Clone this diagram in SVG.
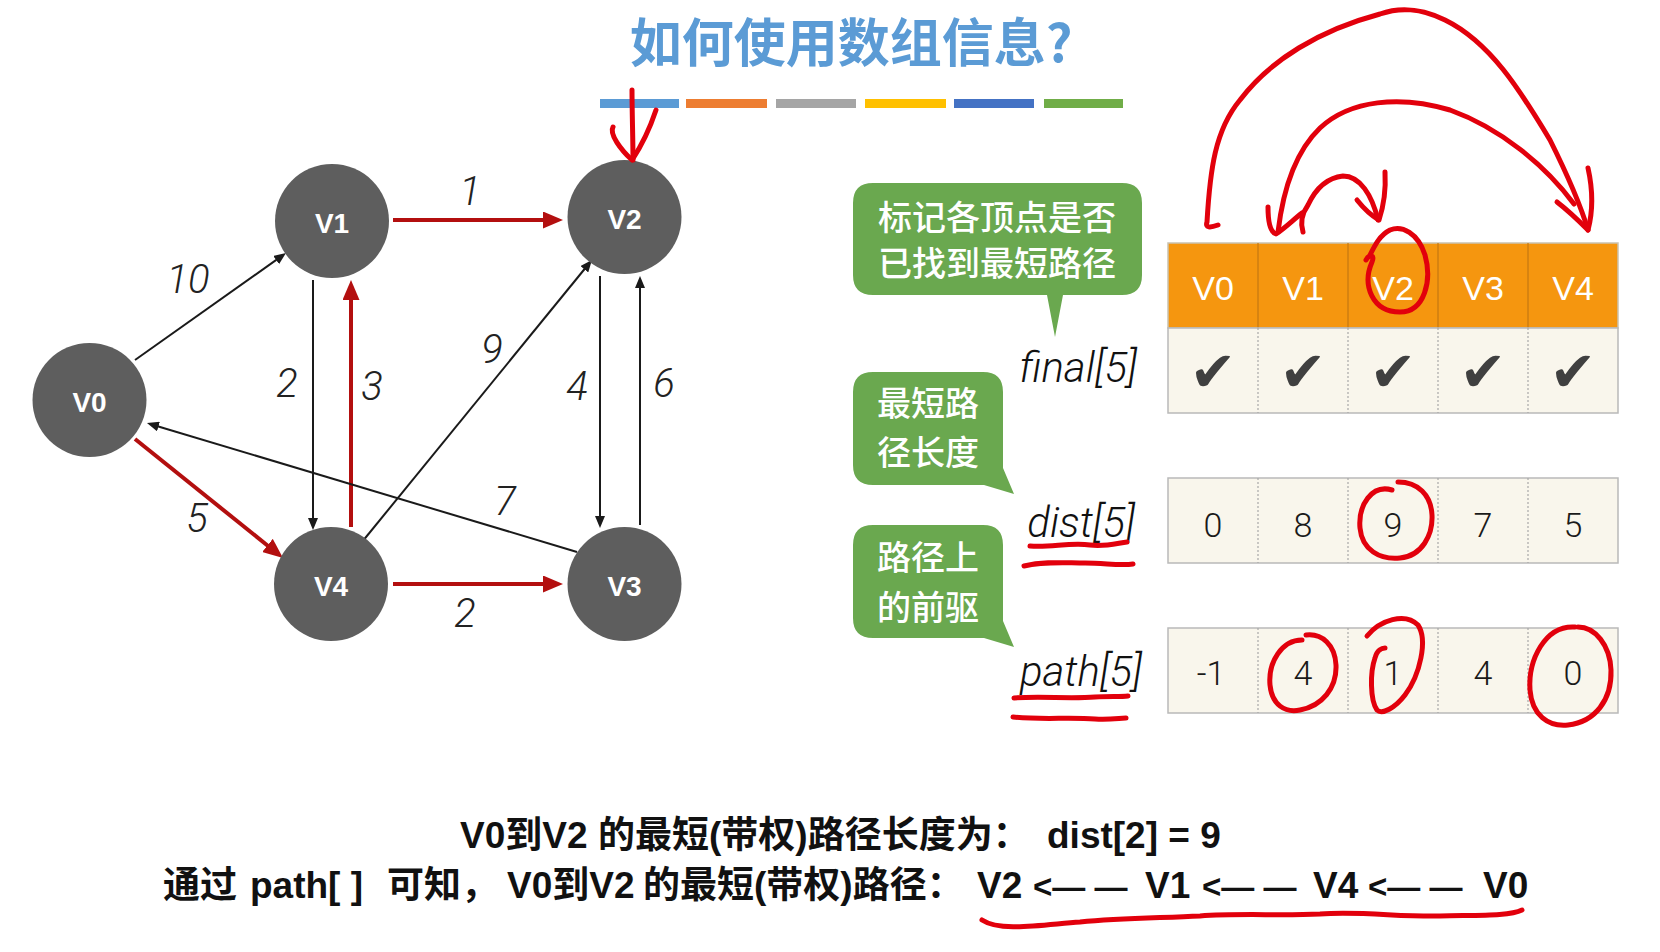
<svg xmlns="http://www.w3.org/2000/svg" width="1660" height="952" viewBox="0 0 1660 952">
<defs>
<style>
.node circle{fill:#5e5e5e}
.node text{font-family:"Liberation Sans","Noto Sans",sans-serif;font-weight:bold;font-size:28px;fill:#fff;text-anchor:middle}
.e{fill:none;stroke:#1a1a1a;stroke-width:2}
.er{fill:none;stroke:#b30f0f;stroke-width:4}
.w{font-family:Roboto,"Liberation Sans",sans-serif;font-weight:300;font-style:italic;font-size:40px;fill:#222;text-anchor:middle}
.bubble{fill:#6aa84f}
.bt{font-family:"Noto Sans CJK SC",sans-serif;font-weight:500;font-size:34px;fill:#fff;text-anchor:middle}
.lab{font-family:Roboto,"Liberation Sans",sans-serif;font-weight:300;font-style:italic;font-size:42px;fill:#111;text-anchor:end}
.hd{fill:#f5960f;stroke:#c9c2b0;stroke-width:1.5}
.row{fill:#f9f6ec;stroke:#b9b9b9;stroke-width:1.5}
.dot{stroke:#a8a8a8;stroke-width:1.2;stroke-dasharray:2 2}
.hdiv{stroke:#c47812;stroke-width:1.2}
.ht{font-family:"Liberation Sans",sans-serif;font-size:34px;fill:#fff;text-anchor:middle}
.ck{font-family:"DejaVu Sans",sans-serif;font-size:56px;fill:#404040;text-anchor:middle}
.num{font-family:Roboto,"Liberation Sans",sans-serif;font-weight:300;font-size:34px;fill:#1a1a1a;text-anchor:middle}
.ink{fill:none;stroke:#e2000c;stroke-width:5;stroke-linecap:round;stroke-linejoin:round}
.bot{font-family:"Liberation Sans","Noto Sans CJK SC",sans-serif;font-weight:bold;font-size:37px;fill:#111}
.arw{font-size:33px}
</style>
<marker id="ak" markerUnits="userSpaceOnUse" markerWidth="12" markerHeight="10" refX="1" refY="5" orient="auto"><path d="M0,0 L12,5 L0,10 Z" fill="#1a1a1a"/></marker>
<marker id="ar" markerUnits="userSpaceOnUse" markerWidth="20" markerHeight="17" refX="2" refY="8.5" orient="auto"><path d="M0,0 L20,8.5 L0,17 Z" fill="#b30f0f"/></marker>
</defs>
<rect width="1660" height="952" fill="#fff"/>

<g id="title">
<text x="851" y="62" font-family="Noto Sans CJK SC, sans-serif" font-weight="bold" font-size="52" fill="#5b9bd5" text-anchor="middle">如何使用数组信息?</text>
<rect x="600" y="99" width="79" height="9" fill="#5b9bd5"/>
<rect x="686" y="99" width="81" height="9" fill="#ed7d31"/>
<rect x="776" y="99" width="80" height="9" fill="#a5a5a5"/>
<rect x="865" y="99" width="81" height="9" fill="#ffc000"/>
<rect x="954" y="99" width="80" height="9" fill="#4472c4"/>
<rect x="1044" y="99" width="79" height="9" fill="#70ad47"/>
</g>

<g id="connectors">
<line class="e" x1="135" y1="360" x2="277" y2="259.4" marker-end="url(#ak)"/>
<line class="er" x1="135" y1="439" x2="269" y2="546.7" marker-end="url(#ar)"/>
<line class="er" x1="393" y1="220" x2="545" y2="220" marker-end="url(#ar)"/>
<line class="e" x1="313" y1="280" x2="313" y2="519" marker-end="url(#ak)"/>
<line class="er" x1="351" y1="527" x2="351" y2="298" marker-end="url(#ar)"/>
<line class="e" x1="362" y1="542" x2="585" y2="268.5" marker-end="url(#ak)"/>
<line class="e" x1="600" y1="276" x2="600" y2="517" marker-end="url(#ak)"/>
<line class="e" x1="640" y1="525" x2="640" y2="287" marker-end="url(#ak)"/>
<line class="e" x1="577" y1="552" x2="157.5" y2="426.2" marker-end="url(#ak)"/>
<line class="er" x1="393" y1="584" x2="545" y2="584" marker-end="url(#ar)"/>
<text class="w" x="188" y="293">10</text>
<text class="w" x="470" y="205">1</text>
<text class="w" x="287" y="397">2</text>
<text class="w" x="372" y="400">3</text>
<text class="w" x="492" y="363">9</text>
<text class="w" x="577" y="400">4</text>
<text class="w" x="664" y="397">6</text>
<text class="w" x="505" y="515">7</text>
<text class="w" x="197" y="532">5</text>
<text class="w" x="465" y="627">2</text>
</g>

<g id="V0" class="node"><circle cx="89.5" cy="400" r="57"/><text x="89.5" y="412">V0</text></g>
<g id="V1" class="node"><circle cx="332" cy="221" r="57"/><text x="332" y="233">V1</text></g>
<g id="V2" class="node"><circle cx="624.5" cy="217" r="57"/><text x="624.5" y="229">V2</text></g>
<g id="V3" class="node"><circle cx="624.5" cy="584" r="57"/><text x="624.5" y="596">V3</text></g>
<g id="V4" class="node"><circle cx="331" cy="584" r="57"/><text x="331" y="596">V4</text></g>

<g id="callout-final">
<path class="bubble" d="M873,183 H1122 Q1142,183 1142,203 V275 Q1142,295 1122,295 H1063 L1055,337 L1047,295 H873 Q853,295 853,275 V203 Q853,183 873,183 Z"/>
<text class="bt" x="997" y="229.5">标记各顶点是否</text>
<text class="bt" x="997" y="275.5">已找到最短路径</text>
</g>
<g id="callout-dist">
<path class="bubble" d="M873,372 H983 Q1003,372 1003,392 V468 L1014,494 L984,485 H873 Q853,485 853,465 V392 Q853,372 873,372 Z"/>
<text class="bt" x="928" y="415.5">最短路</text>
<text class="bt" x="928" y="464.5">径长度</text>
</g>
<g id="callout-path">
<path class="bubble" d="M873,525 H983 Q1003,525 1003,545 V621 L1014,647 L984,638 H873 Q853,638 853,618 V545 Q853,525 873,525 Z"/>
<text class="bt" x="928" y="569.5">路径上</text>
<text class="bt" x="928" y="619.5">的前驱</text>
</g>

<g id="labels">
<text class="lab" x="1137" y="382">final[5]</text>
<text class="lab" x="1135" y="537">dist[5]</text>
<text class="lab" x="1142" y="686">path[5]</text>
</g>

<g id="table-final">
<rect class="hd" x="1168" y="243" width="450" height="85"/>
<line class="hdiv" x1="1258" y1="243" x2="1258" y2="328"/>
<line class="hdiv" x1="1348" y1="243" x2="1348" y2="328"/>
<line class="hdiv" x1="1438" y1="243" x2="1438" y2="328"/>
<line class="hdiv" x1="1528" y1="243" x2="1528" y2="328"/>
<text class="ht" x="1213" y="300">V0</text>
<text class="ht" x="1303" y="300">V1</text>
<text class="ht" x="1393" y="300">V2</text>
<text class="ht" x="1483" y="300">V3</text>
<text class="ht" x="1573" y="300">V4</text>
<rect class="row" x="1168" y="328" width="450" height="85"/>
<line class="dot" x1="1258" y1="328" x2="1258" y2="413"/>
<line class="dot" x1="1348" y1="328" x2="1348" y2="413"/>
<line class="dot" x1="1438" y1="328" x2="1438" y2="413"/>
<line class="dot" x1="1528" y1="328" x2="1528" y2="413"/>
<text class="ck" x="1213" y="391">✔</text>
<text class="ck" x="1303" y="391">✔</text>
<text class="ck" x="1393" y="391">✔</text>
<text class="ck" x="1483" y="391">✔</text>
<text class="ck" x="1573" y="391">✔</text>
</g>
<g id="table-dist">
<rect class="row" x="1168" y="478" width="450" height="85"/>
<line class="dot" x1="1258" y1="478" x2="1258" y2="563"/>
<line class="dot" x1="1348" y1="478" x2="1348" y2="563"/>
<line class="dot" x1="1438" y1="478" x2="1438" y2="563"/>
<line class="dot" x1="1528" y1="478" x2="1528" y2="563"/>
<text class="num" x="1213" y="537">0</text>
<text class="num" x="1303" y="537">8</text>
<text class="num" x="1393" y="537">9</text>
<text class="num" x="1483" y="537">7</text>
<text class="num" x="1573" y="537">5</text>
</g>
<g id="table-path">
<rect class="row" x="1168" y="628" width="450" height="85"/>
<line class="dot" x1="1258" y1="628" x2="1258" y2="713"/>
<line class="dot" x1="1348" y1="628" x2="1348" y2="713"/>
<line class="dot" x1="1438" y1="628" x2="1438" y2="713"/>
<line class="dot" x1="1528" y1="628" x2="1528" y2="713"/>
<text class="num" x="1211" y="685">-1</text>
<text class="num" x="1303" y="685">4</text>
<text class="num" x="1393" y="685">1</text>
<text class="num" x="1483" y="685">4</text>
<text class="num" x="1573" y="685">0</text>
</g>

<g id="ink">
<path class="ink" d="M632,90 C632,112 633,140 633,160"/>
<path class="ink" d="M613,127 C609,134 621,150 632,160 C640,148 650,128 656,110"/>
<path class="ink" d="M1218,225 C1210,228 1205,228 1207,222 C1210,170 1215,130 1240,100 C1270,60 1320,30 1380,14 C1400,7 1420,8 1445,20 C1490,42 1520,90 1550,140 C1570,180 1582,210 1588,230"/>
<path class="ink" d="M1557,202 C1570,212 1580,222 1588,230 C1592,215 1594,195 1588,168"/>
<path class="ink" d="M1574,204 C1545,165 1500,128 1450,110 C1400,95 1350,100 1320,128 C1295,152 1283,190 1278,232"/>
<path class="ink" d="M1268,207 C1268,220 1270,232 1276,234 C1285,228 1293,220 1302,213"/>
<path class="ink" d="M1303,232 C1300,222 1303,212 1308,205 C1315,190 1325,178 1343,176 C1360,176 1372,195 1378,220"/>
<path class="ink" d="M1357,200 C1365,210 1372,216 1379,220 C1384,205 1386,190 1385,172"/>
<path class="ink" d="M1366,260 C1370,253 1375,255 1372,262 C1362,285 1372,312 1400,312 C1425,312 1432,280 1425,255 C1418,233 1402,225 1390,230 C1380,235 1375,245 1370,255"/>
<path class="ink" d="M1392,490 C1372,484 1358,505 1360,528 C1362,550 1380,560 1400,558 C1422,556 1433,535 1432,515 C1431,495 1418,482 1398,482"/>
<path class="ink" d="M1302,640 C1282,640 1268,662 1270,685 C1272,705 1285,713 1300,710 C1322,706 1337,688 1336,665 C1335,645 1322,633 1306,635"/>
<path class="ink" d="M1367,636 C1380,620 1405,612 1418,625 C1428,640 1420,675 1405,695 C1395,708 1382,715 1377,710 C1370,700 1370,672 1375,658 C1377,650 1382,648 1385,648"/>
<path class="ink" d="M1575,627 C1545,625 1528,660 1530,690 C1532,715 1548,727 1568,725 C1595,722 1612,700 1611,670 C1610,645 1595,627 1578,627"/>
<path class="ink" d="M1030,546 C1050,548 1070,542 1090,545 C1105,547 1118,543 1127,542"/>
<path class="ink" d="M1024,566 C1045,561 1065,563 1085,563 C1105,563 1120,566 1133,564"/>
<path class="ink" d="M1014,698 C1040,696 1070,699 1095,697 C1110,696 1120,697 1128,696"/>
<path class="ink" d="M1013,717 C1040,720 1070,717 1095,719 C1110,720 1120,718 1126,718"/>
<path class="ink" d="M982,920 C1000,932 1040,925 1080,922 C1120,918 1160,918 1200,916 C1240,913 1280,916 1320,914 C1360,911 1400,917 1440,916 C1480,915 1510,916 1522,910"/>
</g>

<g id="summary">
<text class="bot" y="848"><tspan x="460">V0到V2 </tspan><tspan x="598">的最短(带权)路径长度为：</tspan><tspan x="1047">dist[2] = 9</tspan></text>
<text class="bot" y="898"><tspan x="163">通过 </tspan><tspan x="250">path[ ] </tspan><tspan x="387">可知，</tspan><tspan x="507">V0到V2 </tspan><tspan x="643">的最短(带权)路径：</tspan><tspan x="977">V2 </tspan><tspan class="arw" x="1033">&lt;— — </tspan><tspan x="1145">V1 </tspan><tspan class="arw" x="1202">&lt;— — </tspan><tspan x="1313">V4 </tspan><tspan class="arw" x="1368">&lt;— — </tspan><tspan x="1483">V0</tspan></text>
</g>
</svg>
